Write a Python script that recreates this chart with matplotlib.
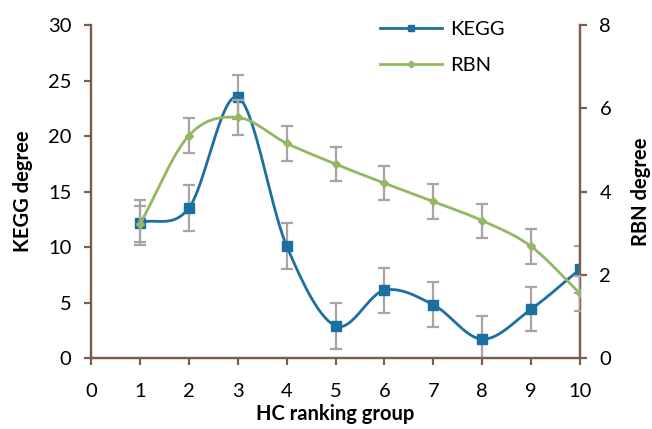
import numpy as np
import matplotlib
matplotlib.use("Agg")
import matplotlib.pyplot as plt
from matplotlib.lines import Line2D

plt.rcParams['font.family'] = ['Lato', 'DejaVu Sans']

groups = [1, 2, 3, 4, 5, 6, 7, 8, 9, 10]
kegg = [12.2, 13.5, 23.5, 10.1, 2.9, 6.1, 4.8, 1.7, 4.4, 8.0]
kegg_err = [2.0, 2.05, 2.0, 2.05, 2.05, 2.05, 2.05, 2.05, 2.0, 2.1]
rbn = [3.21, 5.34, 5.78, 5.16, 4.66, 4.2, 3.76, 3.3, 2.68, 1.55]
rbn_err = [0.43, 0.42, 0.42, 0.42, 0.41, 0.41, 0.41, 0.41, 0.41, 0.41]
xticks = list(range(0, 11))
kegg_ticks = [0, 5, 10, 15, 20, 25, 30]
rbn_ticks = [0, 2, 4, 6, 8]

BLUE = '#1b6fa1'
GREEN = '#93b762'
SPINE = '#7d5c4c'
ERR = '#aaa3a3'
FS = 14.5


def smooth(x, y, n=30):
    # Catmull-Rom curve through the data points (like Excel smoothed lines)
    x = np.asarray(x, float)
    y = np.asarray(y, float)
    px = np.concatenate([[2 * x[0] - x[1]], x, [2 * x[-1] - x[-2]]])
    py = np.concatenate([[2 * y[0] - y[1]], y, [2 * y[-1] - y[-2]]])
    xs, ys = [], []
    t = np.linspace(0, 1, n)
    for i in range(1, len(px) - 2):
        for P, out in ((px, xs), (py, ys)):
            p0, p1, p2, p3 = P[i - 1], P[i], P[i + 1], P[i + 2]
            out.extend(0.5 * ((2 * p1) + (-p0 + p2) * t
                              + (2 * p0 - 5 * p1 + 4 * p2 - p3) * t ** 2
                              + (-p0 + 3 * p1 - 3 * p2 + p3) * t ** 3))
    return np.array(xs), np.array(ys)


fig = plt.figure(figsize=(6.52, 4.29), dpi=100)
ax = fig.add_axes([91 / 652, 1 - 358 / 429, 489 / 652, 333 / 429])
ax2 = ax.twinx()

# KEGG on left axis
sx, sy = smooth(groups, kegg)
ax.plot(sx, sy, color=BLUE, lw=2.0, zorder=2)
ax.errorbar(groups, kegg, yerr=kegg_err, fmt='none', ecolor=ERR, elinewidth=1.6,
            capsize=4.5, capthick=1.6, zorder=3)
ax.plot(groups, kegg, ls='none', marker='s', ms=6.5, color=BLUE, zorder=4)

# RBN on right axis
sx2, sy2 = smooth(groups, rbn)
ax2.plot(sx2, sy2, color=GREEN, lw=2.0, zorder=2)
ax2.errorbar(groups, rbn, yerr=rbn_err, fmt='none', ecolor=ERR, elinewidth=1.6,
             capsize=4.5, capthick=1.6, zorder=3)
ax2.plot(groups, rbn, ls='none', marker='D', ms=4.5, color=GREEN, zorder=4)

ax.set_xlim(0, 10)
ax.set_ylim(0, 30)
ax2.set_ylim(0, 8)
ax.set_xticks(xticks)
ax.set_yticks(kegg_ticks)
ax2.set_yticks(rbn_ticks)

for a in (ax, ax2):
    a.spines['top'].set_visible(False)
    for s in ('left', 'right', 'bottom'):
        a.spines[s].set_color(SPINE)
        a.spines[s].set_linewidth(1.6)
    a.tick_params(direction='out', length=5, width=1.6, color=SPINE,
                  labelsize=FS, labelcolor='black', pad=9)
    a.set_facecolor('none')
ax.tick_params(axis='x', pad=13)

ax.set_xlabel('HC ranking group', fontsize=FS, fontweight='bold', labelpad=3)
ax.set_ylabel('KEGG degree', fontsize=FS, fontweight='bold', labelpad=11)
ax2.set_ylabel('RBN degree', fontsize=FS, fontweight='bold', labelpad=14)

handles = [Line2D([], [], color=BLUE, lw=2.0, marker='s', ms=5),
           Line2D([], [], color=GREEN, lw=2.0, marker='D', ms=3.5)]
fig.legend(handles, ['KEGG', 'RBN'], loc='upper left',
           bbox_to_anchor=(372 / 652, 1 - 13 / 429), frameon=False,
           fontsize=FS, handlelength=3.1, handletextpad=0.4,
           labelspacing=0.95, borderaxespad=0)

fig.savefig('out.png', dpi=100)
